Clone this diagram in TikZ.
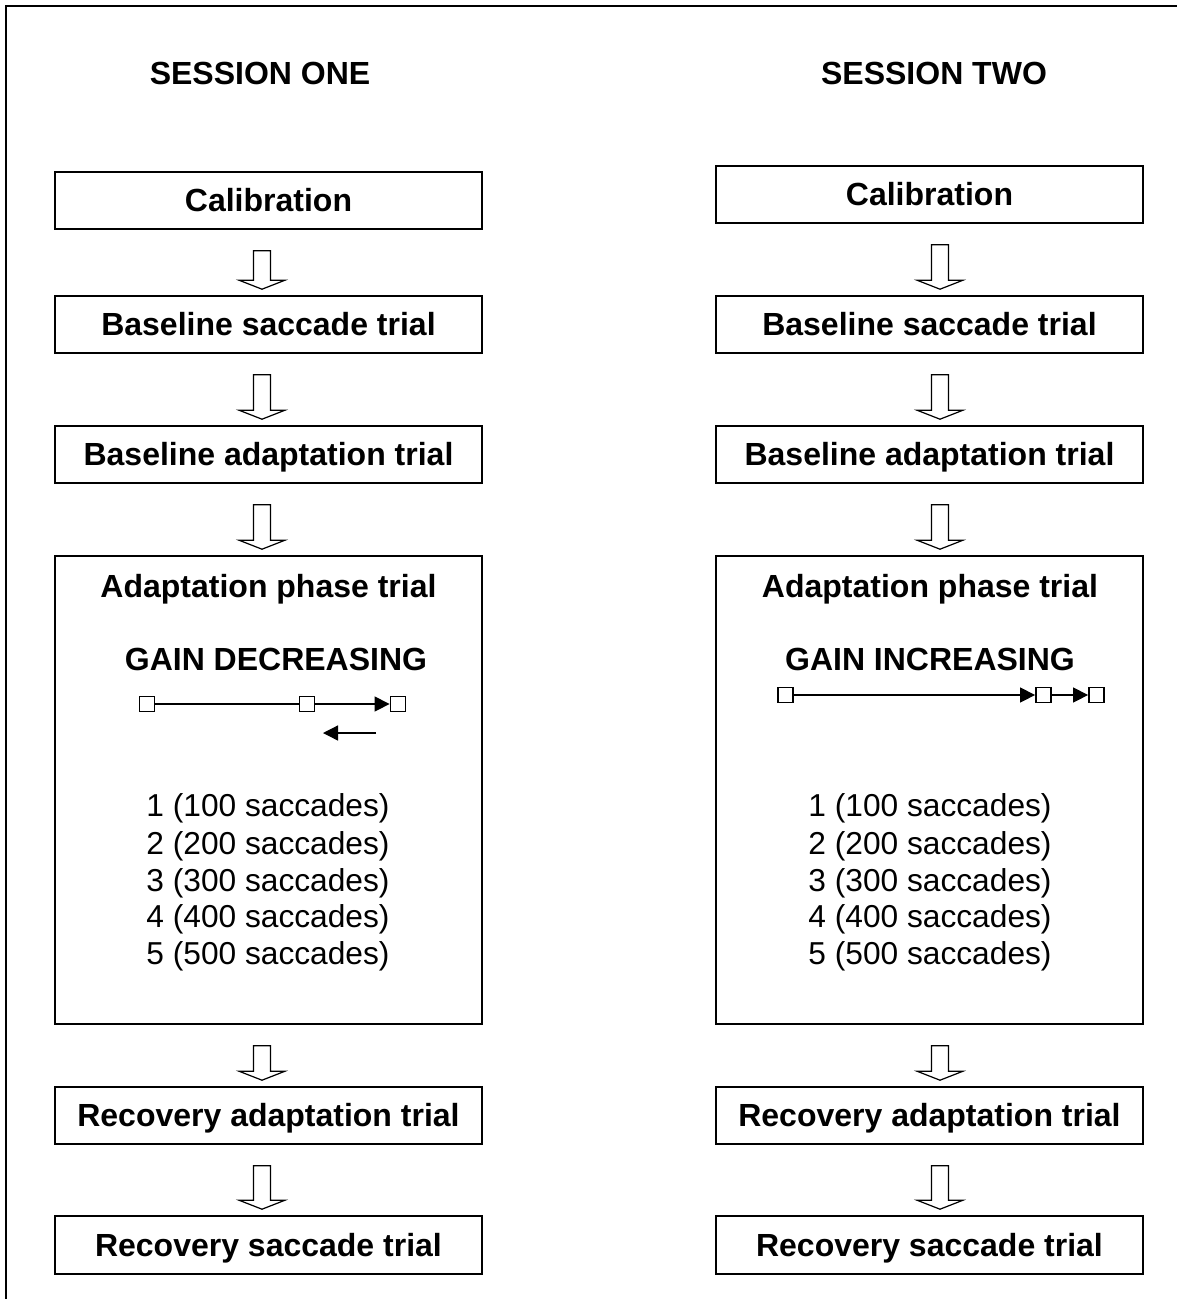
\documentclass[tikz,border=0pt]{standalone}
\usepackage{fontspec}
\setmainfont{Liberation Sans}
\usetikzlibrary{calc,arrows.meta}
\tikzset{
  stepbox/.style={draw, line width=1.6pt, minimum width=427pt, inner sep=0pt,
    font=\fontsize{32}{37}\selectfont\bfseries, text height=22.9pt, text depth=0pt},
  smallbox/.style={stepbox, minimum height=57pt},
  bigbox/.style={draw, line width=1.6pt, minimum width=427pt, minimum height=468pt, inner sep=0pt},
  lbl/.style={inner sep=0pt, anchor=base, font=\fontsize{32}{37}\selectfont\bfseries},
  num/.style={inner sep=0pt, anchor=base, font=\fontsize{31.7}{37}\selectfont},
  blk/.style={draw, line width=1.2pt, fill=white, line join=miter},
  sq/.style={draw, line width=1.8pt, minimum size=15pt, inner sep=0pt},
  thin/.style={line width=1.3pt},
  tip/.style={-{Triangle[length=15pt,width=15pt]}}
}
\newcommand\blockarrow[3]{%
  \draw[blk] let \p1=($(#1.south)+(#3,21)$), \p2=($(#2.north)+(#3,-6)$) in
    (\x1-8.5pt,\y1) -- (\x1+8.5pt,\y1) -- (\x1+8.5pt,\y2+9pt) -- (\x1+23pt,\y2+9pt)
    -- (\x1,\y2) -- (\x1-23pt,\y2+9pt) -- (\x1-8.5pt,\y2+9pt) -- cycle;}
\begin{document}
\begin{tikzpicture}[x=1pt,y=-1pt]
\useasboundingbox (0,0) rectangle (1177,1299);
\draw[line width=2pt] (5.5,1299) -- (5.5,6) -- (1177,6);

% headings
\node[lbl] (h1) at (260,84) {SESSION ONE};
\node[lbl] (h2) at (934,84) {SESSION TWO};

% left column
\node[smallbox] (L1) at (268.5,200.5) {Calibration};
\node[smallbox] (L2) at (268.5,324.5) {Baseline saccade trial};
\node[smallbox] (L3) at (268.5,454.5) {Baseline adaptation trial};
\node[bigbox]   (L4) at (268.5,790) {};
\node[smallbox] (L5) at (268.5,1115.5) {Recovery adaptation trial};
\node[smallbox, minimum height=58pt] (L6) at (268.5,1245) {Recovery saccade trial};

% right column
\node[smallbox] (R1) at (929.5,194.5) {Calibration};
\node[smallbox] (R2) at (929.5,324.5) {Baseline saccade trial};
\node[smallbox] (R3) at (929.5,454.5) {Baseline adaptation trial};
\node[bigbox]   (R4) at (929.5,790) {};
\node[smallbox] (R5) at (929.5,1115.5) {Recovery adaptation trial};
\node[smallbox, minimum height=58pt] (R6) at (929.5,1245) {Recovery saccade trial};

% contents of adaptation boxes
\node[lbl] (LT) at (268.5,597) {Adaptation phase trial};
\node[lbl] (LG) at (276,670) {GAIN DECREASING};
\node[lbl] (RT) at (930,597) {Adaptation phase trial};
\node[lbl] (RG) at (930,670) {GAIN INCREASING};

\foreach \i/\y in {1/816,2/854,3/891,4/927,5/964}{
  \pgfmathtruncatemacro\hund{\i*100}
  \node[num] (Ln\i) at (268,\y) {\i\ (\hund\ saccades)};
  \node[num] (Rn\i) at (930,\y) {\i\ (\hund\ saccades)};
}

% gain decreasing diagram
\node[sq] (a1) at (147,704) {};
\node[sq] (a2) at (307,704) {};
\node[sq] (a3) at (398,704) {};
\draw[thin] (a1) -- (a2);
\draw[thin,tip] (a2) -- (a3);
\coordinate (b0) at (376,733);
\coordinate (b1) at (323,733);
\draw[thin,tip] (b0) -- (b1);

% gain increasing diagram
\node[sq] (c1) at (785.5,695) {};
\node[sq] (c2) at (1043.5,695) {};
\node[sq] (c3) at (1096.5,695) {};
\draw[thin,tip] (c1) -- (c2);
\draw[thin,tip] (c2) -- (c3);

% block arrows
\blockarrow{L1}{L2}{-6.5}
\blockarrow{L2}{L3}{-6.5}
\blockarrow{L3}{L4}{-6.5}
\blockarrow{L4}{L5}{-6.5}
\blockarrow{L5}{L6}{-6.5}
\blockarrow{R1}{R2}{10.5}
\blockarrow{R2}{R3}{10.5}
\blockarrow{R3}{R4}{10.5}
\blockarrow{R4}{R5}{10.5}
\blockarrow{R5}{R6}{10.5}
\end{tikzpicture}
\end{document}
